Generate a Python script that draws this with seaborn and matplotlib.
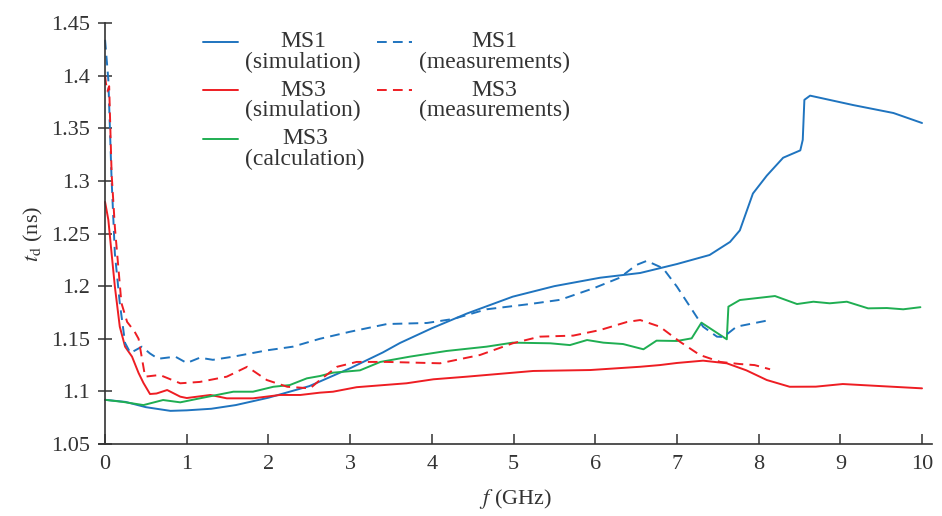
import numpy as np
import pandas as pd
import matplotlib
matplotlib.use('Agg')
import matplotlib.pyplot as plt
import seaborn as sns
from matplotlib.legend_handler import HandlerLine2D

# values
ms1_sim_f = [0, 0.25, 0.5, 0.8, 1.0, 1.3, 1.6, 2.0, 2.5, 3.0, 3.4, 3.61, 4.0, 4.43, 4.99, 5.5,
             6.06, 6.55, 7.0, 7.4, 7.65, 7.77, 7.93, 8.10, 8.30, 8.51, 8.54, 8.56, 8.63, 9.16, 9.65, 10.0]
ms1_sim_td = [1.092, 1.090, 1.085, 1.0815, 1.082, 1.0835, 1.087, 1.094, 1.105, 1.122, 1.137, 1.146,
              1.160, 1.174, 1.190, 1.200, 1.208, 1.2125, 1.221, 1.2296, 1.242, 1.253, 1.288, 1.305,
              1.322, 1.329, 1.339, 1.377, 1.381, 1.372, 1.3645, 1.355]

ms1_meas_f = [0, 0.04, 0.08, 0.12, 0.18, 0.245, 0.31, 0.45, 0.55, 0.65, 0.86, 1.0, 1.16, 1.32,
              1.57, 1.98, 2.3, 2.63, 3.0, 3.45, 3.94, 4.26, 4.67, 5.2, 5.57, 5.98, 6.3, 6.5, 6.63,
              6.83, 7.0, 7.16, 7.32, 7.49, 7.57, 7.73, 8.02, 8.15]
ms1_meas_td = [1.434, 1.396, 1.301, 1.231, 1.184, 1.146, 1.1365, 1.1425, 1.136, 1.131, 1.133,
               1.127, 1.132, 1.130, 1.133, 1.139, 1.1425, 1.150, 1.1567, 1.164, 1.165, 1.1688,
               1.178, 1.183, 1.187, 1.198, 1.208, 1.220, 1.224, 1.217, 1.1995, 1.1805, 1.1615,
               1.152, 1.1517, 1.1615, 1.166, 1.168]

ms3_sim_f = [0, 0.04, 0.08, 0.12, 0.18, 0.245, 0.33, 0.41, 0.47, 0.55, 0.63, 0.76, 0.92, 1.0,
             1.29, 1.49, 1.81, 2.14, 2.39, 2.63, 2.79, 3.08, 3.69, 4.02, 4.43, 5.24, 5.94, 6.55,
             6.79, 7.0, 7.32, 7.61, 7.85, 8.1, 8.38, 8.7, 9.03, 9.5, 10.0]
ms3_sim_td = [1.280, 1.263, 1.231, 1.1995, 1.1615, 1.1425, 1.133, 1.1175, 1.108, 1.0975, 1.098,
              1.1013, 1.095, 1.0937, 1.0966, 1.0934, 1.0934, 1.0966, 1.0966, 1.0988, 1.0997,
              1.104, 1.1077, 1.1115, 1.114, 1.1194, 1.1203, 1.1234, 1.125, 1.127, 1.1292, 1.1267,
              1.120, 1.1108, 1.1044, 1.1045, 1.107, 1.105, 1.1029]

ms3_meas_f = [0, 0.01, 0.03, 0.05, 0.08, 0.12, 0.2, 0.27, 0.36, 0.41, 0.49, 0.67, 0.92, 1.16,
              1.49, 1.74, 1.98, 2.23, 2.51, 2.63, 2.84, 3.08, 3.45, 4.1, 4.59, 4.99, 5.32, 5.73,
              6.06, 6.39, 6.55, 6.79, 7.04, 7.28, 7.53, 7.77, 7.95, 8.14]
ms3_meas_td = [1.400, 1.393, 1.385, 1.39, 1.307, 1.256, 1.184, 1.166, 1.157, 1.150, 1.114,
               1.1156, 1.1077, 1.109, 1.114, 1.1234, 1.1108, 1.1044, 1.1029, 1.1108, 1.1234,
               1.128, 1.128, 1.1267, 1.1346, 1.1457, 1.152, 1.153, 1.1583, 1.166, 1.1678,
               1.1615, 1.147, 1.1346, 1.128, 1.126, 1.125, 1.121]

ms3_calc_f = [0, 0.22, 0.47, 0.71, 0.92, 1.16, 1.57, 1.81, 2.06, 2.26, 2.47, 2.63, 2.79, 3.12,
              3.37, 3.73, 4.18, 4.67, 4.99, 5.45, 5.69, 5.9, 6.1, 6.34, 6.59, 6.75, 7.0, 7.18,
              7.3, 7.61, 7.63, 7.77, 8.2, 8.47, 8.67, 8.87, 9.08, 9.34, 9.57, 9.77, 9.98]
ms3_calc_td = [1.092, 1.090, 1.087, 1.0918, 1.0896, 1.0934, 1.0997, 1.0997, 1.1044, 1.106,
               1.1124, 1.1146, 1.1178, 1.120, 1.128, 1.133, 1.1384, 1.1425, 1.1463, 1.1457,
               1.144, 1.1488, 1.1463, 1.145, 1.140, 1.1482, 1.1479, 1.1504, 1.1653, 1.1495,
               1.1805, 1.1868, 1.1906, 1.183, 1.1852, 1.1837, 1.1852, 1.1789, 1.1792, 1.178, 1.180]

blue = '#1f74bf'
red = '#ee1d23'
green = '#1fae52'


# legend handle sits next to the first line of the two-line label
class TopLine(HandlerLine2D):
    def create_artists(self, legend, orig_handle, xdescent, ydescent, width, height,
                       fontsize, trans):
        arts = super().create_artists(legend, orig_handle, xdescent, ydescent, width,
                                      height, fontsize, trans)
        for a in arts:
            a.set_ydata(np.asarray(a.get_ydata()) + 0.42 * fontsize)
        return arts


sns.set_style('ticks')
plt.rcParams['font.family'] = ['Liberation Serif', 'DejaVu Serif']
plt.rcParams['mathtext.fontset'] = 'stix'

fig = plt.figure(figsize=(9.42, 5.16), dpi=100)
ax = fig.add_axes([0.1046, 0.1395, 0.8846, 0.8159])

dash = (0, (5, 3.2))
series = [
    (ms1_sim_f, ms1_sim_td, blue, '-', 'MS1\n(simulation)'),
    (ms3_sim_f, ms3_sim_td, red, '-', 'MS3\n(simulation)'),
    (ms3_calc_f, ms3_calc_td, green, '-', 'MS3\n(calculation)'),
    (ms1_meas_f, ms1_meas_td, blue, dash, 'MS1\n(measurements)'),
    (ms3_meas_f, ms3_meas_td, red, dash, 'MS3\n(measurements)'),
]
for f, td, col, ls, lab in series:
    sns.lineplot(x=f, y=td, ax=ax, color=col, linestyle=ls, linewidth=1.4,
                 sort=False, estimator=None, label=lab)

ax.set_xlim(-0.08, 10.12)
ax.set_ylim(1.05, 1.45)
ax.spines['left'].set_position(('data', 0))
ax.spines['top'].set_visible(False)
ax.spines['right'].set_visible(False)
for s in ['left', 'bottom']:
    ax.spines[s].set_color('#333333')
    ax.spines[s].set_linewidth(1.2)
ax.set_xticks(range(0, 11))
ax.set_yticks([1.05, 1.1, 1.15, 1.2, 1.25, 1.3, 1.35, 1.4, 1.45])
ax.set_yticklabels(['1.05', '1.1', '1.15', '1.2', '1.25', '1.3', '1.35', '1.4', '1.45'])
ax.tick_params(axis='x', direction='in', length=7, width=1.1, color='#333333',
               labelsize=16, labelcolor='#333333', pad=8)
ax.tick_params(axis='y', direction='inout', length=10, width=1.1, color='#333333',
               labelsize=16, labelcolor='#333333', pad=6)

ax.set_xlabel(r'$f$ (GHz)', fontsize=16, color='#333333', labelpad=9)
ax.set_ylabel(r'$t_{\mathrm{d}}$ (ns)', fontsize=16, color='#333333', labelpad=4)

handles, labels = ax.get_legend_handles_labels()
leg = ax.legend(handles, labels, ncol=2, loc='upper left', bbox_to_anchor=(0.125, 0.98),
                frameon=False, fontsize=17, handlelength=1.5, handletextpad=0.3,
                columnspacing=0.5, labelspacing=0.3, borderaxespad=0, borderpad=0,
                handler_map={h: TopLine() for h in handles})
for t in leg.get_texts():
    t.set_multialignment('center')
    t.set_linespacing(0.95)
    t.set_color('#333333')

fig.savefig('out.png', dpi=100)
